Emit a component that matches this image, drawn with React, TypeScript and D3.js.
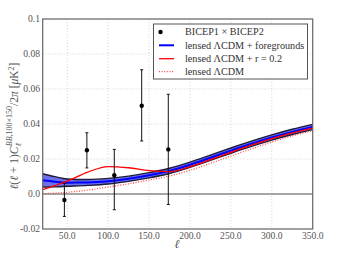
import React, { useRef, useEffect } from 'react';
import * as d3 from 'd3';

// sampled multipoles for the model curves
const ells = [20, 35, 50, 75, 100, 125, 150, 175, 200, 225, 250, 275, 300, 325, 350];
const fgCenter = [0.0078, 0.0070, 0.0065, 0.0066, 0.0073, 0.0087, 0.0107, 0.0132, 0.0167, 0.0207, 0.0248, 0.0287, 0.0323, 0.0355, 0.0383];
const fgHalfWidth = [0.0038, 0.0029, 0.0021, 0.0017, 0.0016, 0.0015, 0.0015, 0.0015, 0.0015, 0.0015, 0.0015, 0.0015, 0.0015, 0.0015, 0.0015];
const rCurve = [0.0025, 0.0048, 0.0073, 0.0125, 0.0157, 0.0150, 0.0134, 0.0128, 0.0156, 0.0196, 0.0238, 0.0279, 0.0316, 0.0349, 0.0377];
const lensCurve = [0.0002, 0.0005, 0.0010, 0.0022, 0.0040, 0.0058, 0.0080, 0.0103, 0.0135, 0.0175, 0.0217, 0.0258, 0.0297, 0.0332, 0.0362];

// BICEP1 x BICEP2 bandpowers
const binEll = [46.5, 74, 107.5, 141, 173.5];
const binVal = [-0.0034, 0.025, 0.0107, 0.0504, 0.0255];
const binLo = [-0.0128, 0.0149, -0.009, 0.0303, -0.006];
const binHi = [0.006, 0.035, 0.0255, 0.071, 0.057];

const xTicks = [50, 100, 150, 200, 250, 300, 350];
const yTicks = [-0.02, 0, 0.02, 0.04, 0.06, 0.08, 0.1];
const yTickLabels = ['-0.02', '0.0', '0.02', '0.04', '0.06', '0.08', '0.1'];

const legendLabels = ['BICEP1 × BICEP2', 'lensed ΛCDM + foregrounds', 'lensed ΛCDM + r = 0.2', 'lensed ΛCDM'];

const W = 339;
const H = 255;
const serif = '"Liberation Serif", "DejaVu Serif", serif';

const App: React.FC = () => {
  const svgRef = useRef<SVGSVGElement>(null);

  useEffect(() => {
    if (!svgRef.current) return;
    const svg = d3.select(svgRef.current);
    svg.selectAll('*').remove();

    const x = d3.scaleLinear().domain([20, 350]).range([42.7, 312.7]);
    const y = d3.scaleLinear().domain([-0.02, 0.1]).range([229, 19]);

    const g = svg.append('g');

    // grid
    g.selectAll('.vgrid')
      .data(xTicks)
      .enter()
      .append('line')
      .attr('x1', (d) => x(d))
      .attr('x2', (d) => x(d))
      .attr('y1', y(0.1))
      .attr('y2', y(-0.02))
      .attr('stroke', '#c8c8c8')
      .attr('stroke-width', 0.8)
      .attr('stroke-dasharray', '1,2');
    g.selectAll('.hgrid')
      .data(yTicks)
      .enter()
      .append('line')
      .attr('x1', x(20))
      .attr('x2', x(350))
      .attr('y1', (d) => y(d))
      .attr('y2', (d) => y(d))
      .attr('stroke', '#c8c8c8')
      .attr('stroke-width', 0.8)
      .attr('stroke-dasharray', '1,2');

    // zero line
    g.append('line')
      .attr('x1', x(20))
      .attr('x2', x(350))
      .attr('y1', y(0))
      .attr('y2', y(0))
      .attr('stroke', '#555')
      .attr('stroke-width', 1.2);

    const curve = d3.curveMonotoneX;
    const idx = d3.range(ells.length);

    // foreground band
    const area = d3
      .area<number>()
      .x((i) => x(ells[i]))
      .y0((i) => y(fgCenter[i] - fgHalfWidth[i]))
      .y1((i) => y(fgCenter[i] + fgHalfWidth[i]))
      .curve(curve);
    g.append('path').attr('d', area(idx)).attr('fill', '#6f6fea');
    const edge = (sign: number) =>
      d3
        .line<number>()
        .x((i) => x(ells[i]))
        .y((i) => y(fgCenter[i] + sign * fgHalfWidth[i]))
        .curve(curve)(idx);
    [1, -1].forEach((s) =>
      g.append('path').attr('d', edge(s)).attr('fill', 'none').attr('stroke', '#1c1c3c').attr('stroke-width', 1.4)
    );

    const line = (vals: number[]) =>
      d3
        .line<number>()
        .x((i) => x(ells[i]))
        .y((i) => y(vals[i]))
        .curve(curve)(idx);

    g.append('path').attr('d', line(lensCurve)).attr('fill', 'none').attr('stroke', '#ff4040').attr('stroke-width', 1.2).attr('stroke-dasharray', '1,1.6');
    g.append('path').attr('d', line(fgCenter)).attr('fill', 'none').attr('stroke', '#0000ff').attr('stroke-width', 2);
    g.append('path').attr('d', line(rCurve)).attr('fill', 'none').attr('stroke', '#ff0000').attr('stroke-width', 1.3);

    // data points
    binEll.forEach((e, i) => {
      g.append('line')
        .attr('x1', x(e)).attr('x2', x(e))
        .attr('y1', y(binLo[i])).attr('y2', y(binHi[i]))
        .attr('stroke', '#111').attr('stroke-width', 1);
      [binLo[i], binHi[i]].forEach((v) =>
        g.append('line')
          .attr('x1', x(e) - 1.5).attr('x2', x(e) + 1.5)
          .attr('y1', y(v)).attr('y2', y(v))
          .attr('stroke', '#111').attr('stroke-width', 1)
      );
      g.append('circle').attr('cx', x(e)).attr('cy', y(binVal[i])).attr('r', 2.2).attr('fill', '#000');
    });

    // frame
    g.append('rect')
      .attr('x', x(20)).attr('y', y(0.1))
      .attr('width', x(350) - x(20)).attr('height', y(-0.02) - y(0.1))
      .attr('fill', 'none').attr('stroke', '#666').attr('stroke-width', 1.2);

    // tick labels
    g.selectAll('.xt')
      .data(xTicks)
      .enter()
      .append('text')
      .attr('x', (d) => x(d))
      .attr('y', 239)
      .attr('text-anchor', 'middle')
      .attr('font-family', serif)
      .attr('font-size', 9.6)
      .attr('fill', '#555')
      .text((d) => d.toFixed(1));
    g.selectAll('.yt')
      .data(yTicks)
      .enter()
      .append('text')
      .attr('x', 40)
      .attr('y', (d) => y(d) + 3.3)
      .attr('text-anchor', 'end')
      .attr('font-family', serif)
      .attr('font-size', 9.6)
      .attr('fill', '#555')
      .text((d, i) => yTickLabels[i]);

    // axis labels
    g.append('text')
      .attr('x', 177)
      .attr('y', 248)
      .attr('text-anchor', 'middle')
      .attr('font-family', serif)
      .attr('font-style', 'italic')
      .attr('font-size', 12)
      .attr('fill', '#555')
      .text('ℓ');

    const yl = g
      .append('text')
      .attr('transform', 'translate(18,126) rotate(-90)')
      .attr('text-anchor', 'middle')
      .attr('font-family', serif)
      .attr('font-size', 11.5)
      .attr('fill', '#555');
    yl.append('tspan').attr('font-style', 'italic').text('ℓ');
    yl.append('tspan').text('(');
    yl.append('tspan').attr('font-style', 'italic').text('ℓ');
    yl.append('tspan').text(' + 1)');
    yl.append('tspan').attr('font-style', 'italic').text('C');
    yl.append('tspan').attr('font-style', 'italic').attr('font-size', 8).attr('dy', 3).text('ℓ');
    yl.append('tspan').attr('font-style', 'italic').attr('font-size', 8).attr('dy', -9).attr('dx', -3).text('BB,');
    yl.append('tspan').attr('font-size', 8).text('100×150');
    yl.append('tspan').attr('dy', 6).text('/2');
    yl.append('tspan').attr('font-style', 'italic').text('π');
    yl.append('tspan').text(' [');
    yl.append('tspan').attr('font-style', 'italic').text('μ');
    yl.append('tspan').text('K');
    yl.append('tspan').attr('font-size', 8).attr('dy', -4).text('2');
    yl.append('tspan').attr('dy', 4).text(']');

    // legend
    const lg = g.append('g');
    lg.append('rect')
      .attr('x', 153.5).attr('y', 24)
      .attr('width', 154).attr('height', 55)
      .attr('fill', '#fff').attr('stroke', '#555').attr('stroke-width', 1);
    const rowY = [32, 45.3, 58.7, 71.7];
    lg.append('circle').attr('cx', 160.5).attr('cy', rowY[0]).attr('r', 2.2).attr('fill', '#000');
    lg.append('line').attr('x1', 159).attr('x2', 174).attr('y1', rowY[1]).attr('y2', rowY[1]).attr('stroke', '#0000ff').attr('stroke-width', 2);
    lg.append('line').attr('x1', 159).attr('x2', 174).attr('y1', rowY[2]).attr('y2', rowY[2]).attr('stroke', '#ff0000').attr('stroke-width', 1.3);
    lg.append('line').attr('x1', 159).attr('x2', 174).attr('y1', rowY[3]).attr('y2', rowY[3]).attr('stroke', '#ff4040').attr('stroke-width', 1.2).attr('stroke-dasharray', '1,1.6');
    legendLabels.forEach((t, i) =>
      lg.append('text')
        .attr('x', 185)
        .attr('y', rowY[i] + 3.3)
        .attr('font-family', serif)
        .attr('font-size', 10.2)
        .attr('fill', '#333')
        .text(t)
    );
  }, []);

  return (
    <svg
      ref={svgRef}
      width={W}
      height={H}
      style={{ position: 'absolute', left: 0, top: 0, background: '#fff' }}
    />
  );
};

export default App;
